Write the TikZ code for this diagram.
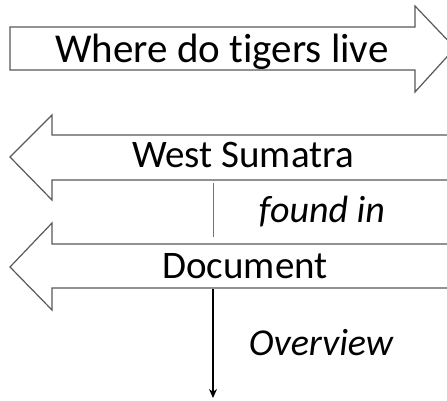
\documentclass[tikz,border=0pt]{standalone}
\usepackage{fontspec}
\setmainfont{Carlito}[Ligatures=NoCommon]
\usetikzlibrary{arrows.meta}

\tikzset{
    bigarrow/.style={draw=black!65, line width=1.2pt, fill=white},
    label/.style={font=\fontsize{39}{46}\selectfont, inner sep=0pt, anchor=base},
    relation/.style={font=\fontsize{38}{46}\selectfont\itshape, inner sep=0pt, anchor=base},
}

\begin{document}
\begin{tikzpicture}[x=1pt, y=-1pt]
    \clip (0,0) rectangle (447,400);
    \fill[white] (0,0) rectangle (447,400);
    % query arrow pointing right
    \draw[bigarrow] (10,27) -- (415,27) -- (415,6) -- (455,48) -- (415,92) -- (415,70) -- (10,70) -- cycle;
    % entity arrows pointing left
    \draw[bigarrow] (460,135) -- (52,135) -- (52,115) -- (10,157) -- (52,200) -- (52,180) -- (460,180) -- cycle;
    \draw[bigarrow] (460,244) -- (52,244) -- (52,223) -- (10,267) -- (52,310) -- (52,288) -- (460,288) -- cycle;
    \node[label, font=\fontsize{41}{48}\selectfont] (query) at (222,62) {Where do tigers live};
    \node[label] (sumatra) at (243,167) {West Sumatra};
    \node[label] (document) at (245,278) {Document};
    \coordinate (linktop) at (213,183);
    \coordinate (linkbot) at (213,237);
    \coordinate (docbot) at (213,289);
    \coordinate (overviewend) at (213,398);
    \draw[black!55, line width=1pt] (linktop) -- (linkbot);
    \draw[line width=1.8pt, -{Stealth[length=9pt, width=8pt]}] (docbot) -- (overviewend);
    \node[relation] (foundin) at (322,222) {found in};
    \node[relation] (overview) at (321,355) {Overview};
\end{tikzpicture}
\end{document}
